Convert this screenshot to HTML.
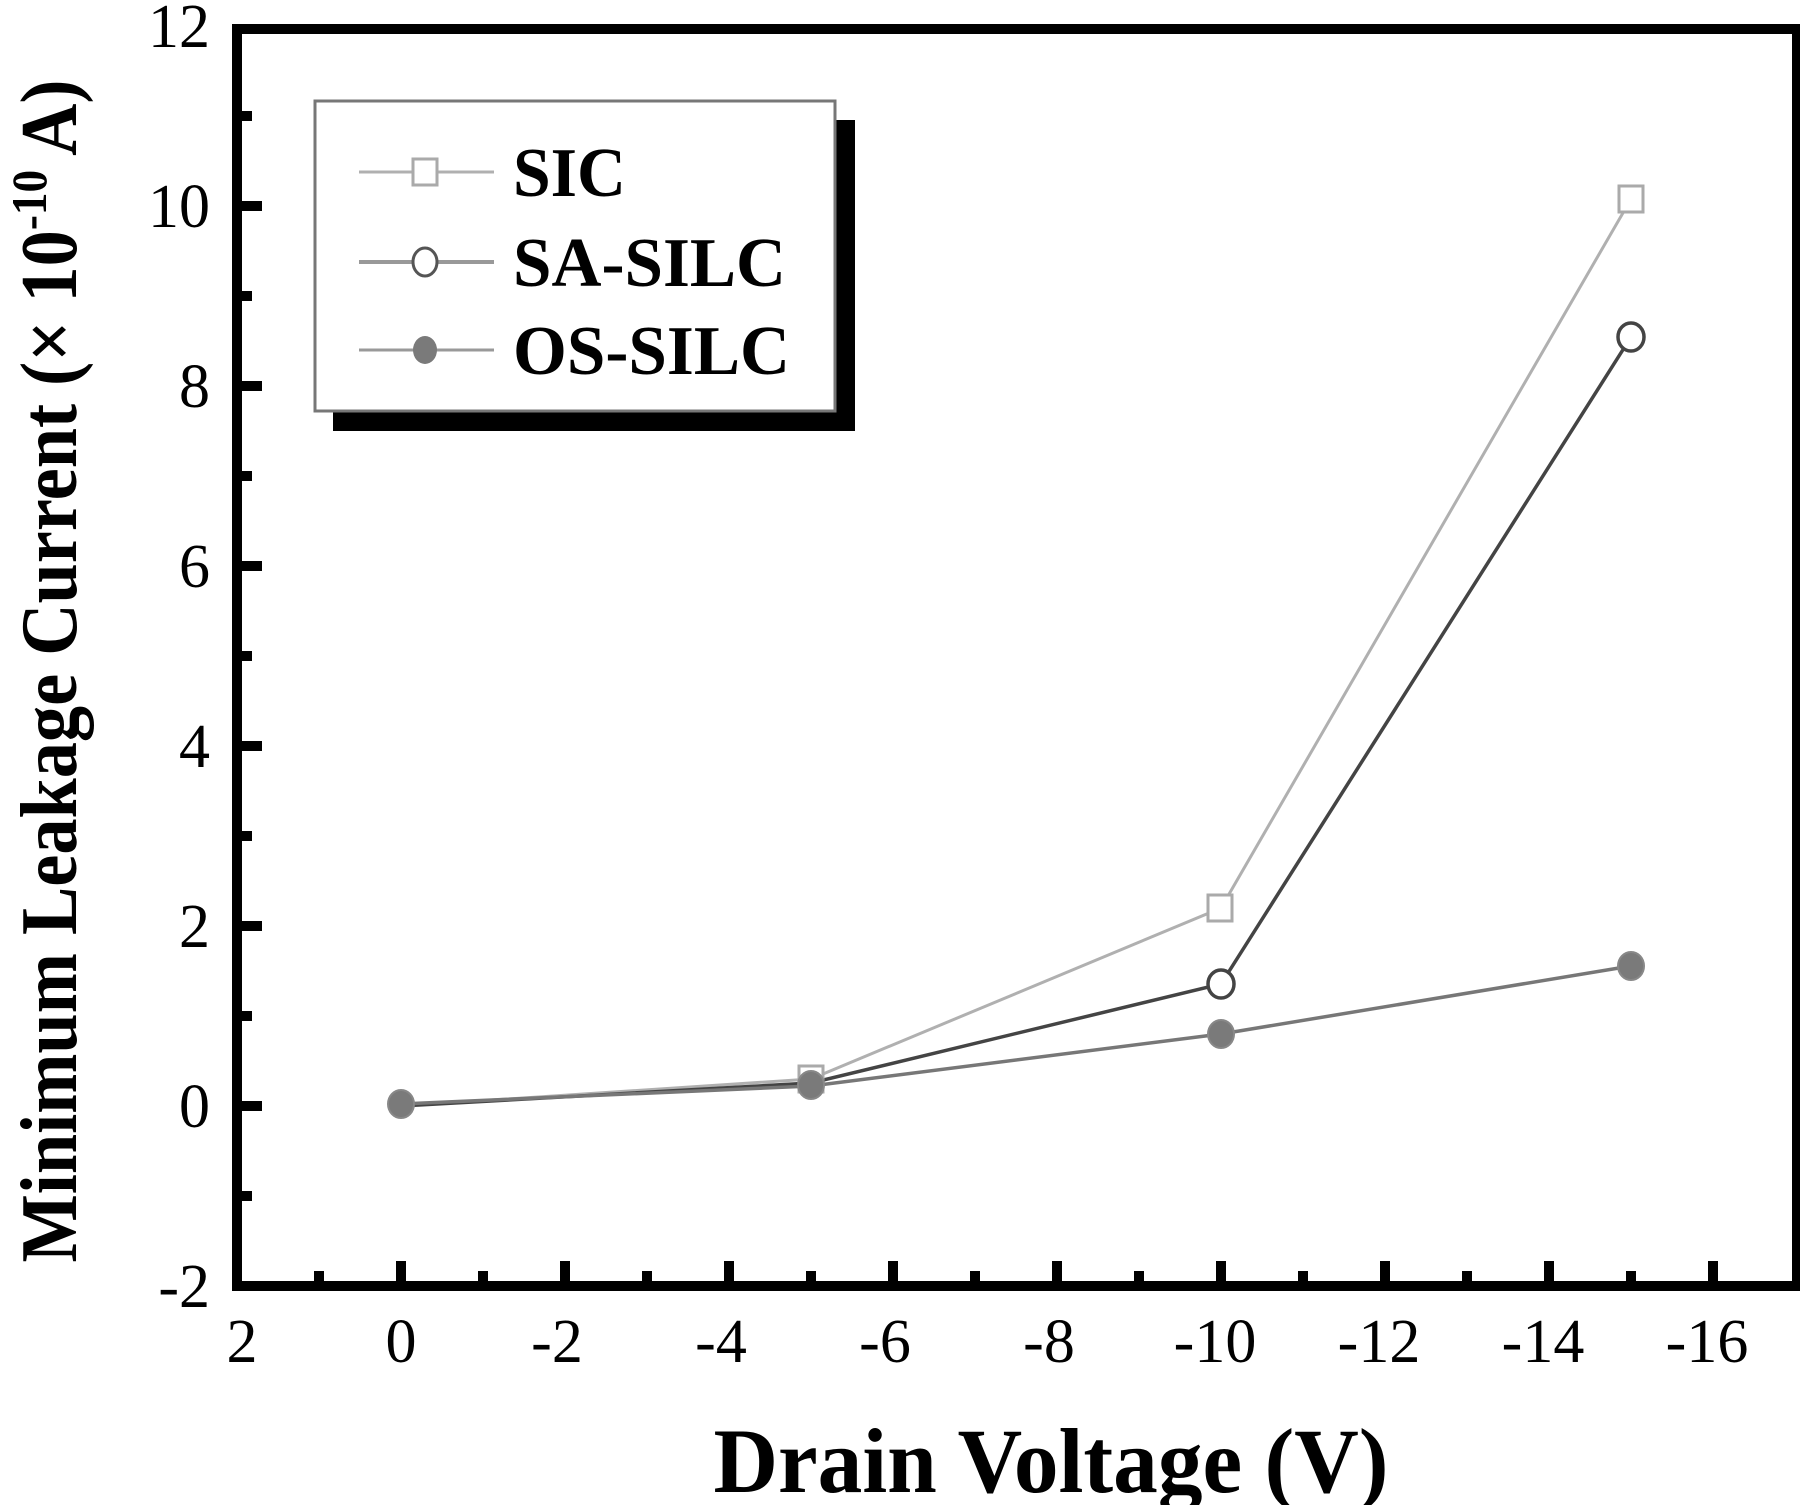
<!DOCTYPE html>
<html><head><meta charset="utf-8"><style>html,body{margin:0;padding:0;background:#fff}svg{display:block}</style></head>
<body>
<svg width="1800" height="1505" viewBox="0 0 1800 1505" xmlns="http://www.w3.org/2000/svg">
<rect width="1800" height="1505" fill="#fff"/>
<!-- axes frame -->
<rect x="237" y="29" width="1560" height="1257" fill="none" stroke="#000" stroke-width="10"/>
<g stroke="#000" stroke-width="10">
<!-- y ticks: y0=1106, 90/unit -->
<line x1="237" y1="1106" x2="262" y2="1106"/>
<line x1="237" y1="926" x2="262" y2="926"/>
<line x1="237" y1="746" x2="262" y2="746"/>
<line x1="237" y1="566" x2="262" y2="566"/>
<line x1="237" y1="386" x2="262" y2="386"/>
<line x1="237" y1="206" x2="262" y2="206"/>
<line x1="237" y1="1196" x2="252" y2="1196"/>
<line x1="237" y1="1016" x2="252" y2="1016"/>
<line x1="237" y1="836" x2="252" y2="836"/>
<line x1="237" y1="656" x2="252" y2="656"/>
<line x1="237" y1="476" x2="252" y2="476"/>
<line x1="237" y1="296" x2="252" y2="296"/>
<line x1="237" y1="116" x2="252" y2="116"/>
<!-- x ticks: x0=401, 82/unit -->
<line x1="401" y1="1286" x2="401" y2="1261"/>
<line x1="565" y1="1286" x2="565" y2="1261"/>
<line x1="729" y1="1286" x2="729" y2="1261"/>
<line x1="893" y1="1286" x2="893" y2="1261"/>
<line x1="1057" y1="1286" x2="1057" y2="1261"/>
<line x1="1221" y1="1286" x2="1221" y2="1261"/>
<line x1="1385" y1="1286" x2="1385" y2="1261"/>
<line x1="1549" y1="1286" x2="1549" y2="1261"/>
<line x1="1713" y1="1286" x2="1713" y2="1261"/>
<line x1="319" y1="1286" x2="319" y2="1271"/>
<line x1="483" y1="1286" x2="483" y2="1271"/>
<line x1="647" y1="1286" x2="647" y2="1271"/>
<line x1="811" y1="1286" x2="811" y2="1271"/>
<line x1="975" y1="1286" x2="975" y2="1271"/>
<line x1="1139" y1="1286" x2="1139" y2="1271"/>
<line x1="1303" y1="1286" x2="1303" y2="1271"/>
<line x1="1467" y1="1286" x2="1467" y2="1271"/>
<line x1="1631" y1="1286" x2="1631" y2="1271"/>
</g>
<g font-family="Liberation Serif, serif" font-size="62" fill="#000" text-anchor="end">
<text x="210" y="1307">-2</text>
<text x="210" y="1127">0</text>
<text x="210" y="947">2</text>
<text x="210" y="767">4</text>
<text x="210" y="587">6</text>
<text x="210" y="407">8</text>
<text x="210" y="227">10</text>
<text x="210" y="47">12</text>
</g>
<g font-family="Liberation Serif, serif" font-size="62" fill="#000" text-anchor="middle">
<text x="242" y="1362">2</text>
<text x="401" y="1362">0</text>
<text x="557" y="1362">-2</text>
<text x="721" y="1362">-4</text>
<text x="885" y="1362">-6</text>
<text x="1049" y="1362">-8</text>
<text x="1215" y="1362">-10</text>
<text x="1379" y="1362">-12</text>
<text x="1543" y="1362">-14</text>
<text x="1707" y="1362">-16</text>
</g>
<text x="1051" y="1492" font-family="Liberation Serif, serif" font-weight="bold" font-size="92" text-anchor="middle" textLength="675" lengthAdjust="spacingAndGlyphs">Drain Voltage (V)</text>
<text transform="translate(76,671) rotate(-90)" font-family="Liberation Serif, serif" font-weight="bold" font-size="80" text-anchor="middle" textLength="1183" lengthAdjust="spacingAndGlyphs">Minimum Leakage Current  (× 10<tspan font-size="50" dy="-30">-10</tspan><tspan dy="30"> A)</tspan></text>
<!-- series -->
<polyline points="401,1106 811,1079 1221,908 1631,199" fill="none" stroke="#b0b0b0" stroke-width="3"/>
<polyline points="401,1106 811,1083 1221,984 1631,337" fill="none" stroke="#444" stroke-width="3.5"/>
<polyline points="401,1104 811,1086 1221,1034 1631,966" fill="none" stroke="#777" stroke-width="3.5"/>
<g fill="#fff" stroke="#aaa" stroke-width="3">
<rect x="1208" y="895" width="24" height="26"/>
<rect x="1619" y="186" width="24" height="26"/>
<rect x="799" y="1066" width="24" height="26"/>
</g>
<g fill="#fff" stroke="#444" stroke-width="3.5">
<ellipse cx="1221" cy="984" rx="13" ry="14"/>
<ellipse cx="1631" cy="337" rx="13" ry="14"/>
</g>
<g fill="#7a7a7a" stroke="#888" stroke-width="2">
<ellipse cx="401" cy="1104" rx="13" ry="14"/>
<ellipse cx="811" cy="1085" rx="13" ry="14"/>
<ellipse cx="1221" cy="1034" rx="13" ry="14"/>
<ellipse cx="1631" cy="966" rx="13" ry="14"/>
</g>
<!-- legend -->
<rect x="333" y="120" width="522" height="311" fill="#000"/>
<rect x="315" y="101" width="520" height="310" fill="#fff" stroke="#777" stroke-width="3"/>
<line x1="359" y1="172" x2="494" y2="172" stroke="#b0b0b0" stroke-width="3"/>
<rect x="413" y="159" width="24" height="26" fill="#fff" stroke="#aaa" stroke-width="3"/>
<line x1="359" y1="262" x2="494" y2="262" stroke="#999" stroke-width="4"/>
<ellipse cx="425" cy="262" rx="12" ry="14" fill="#fff" stroke="#555" stroke-width="3"/>
<line x1="359" y1="350" x2="494" y2="350" stroke="#999" stroke-width="3"/>
<ellipse cx="425" cy="350" rx="12" ry="14" fill="#7a7a7a"/>
<g font-family="Liberation Serif, serif" font-weight="bold" font-size="70" fill="#000">
<text x="513" y="196" textLength="113" lengthAdjust="spacingAndGlyphs">SIC</text>
<text x="513" y="286" textLength="273" lengthAdjust="spacingAndGlyphs">SA-SILC</text>
<text x="513" y="374" textLength="277" lengthAdjust="spacingAndGlyphs">OS-SILC</text>
</g>
</svg>
</body></html>
